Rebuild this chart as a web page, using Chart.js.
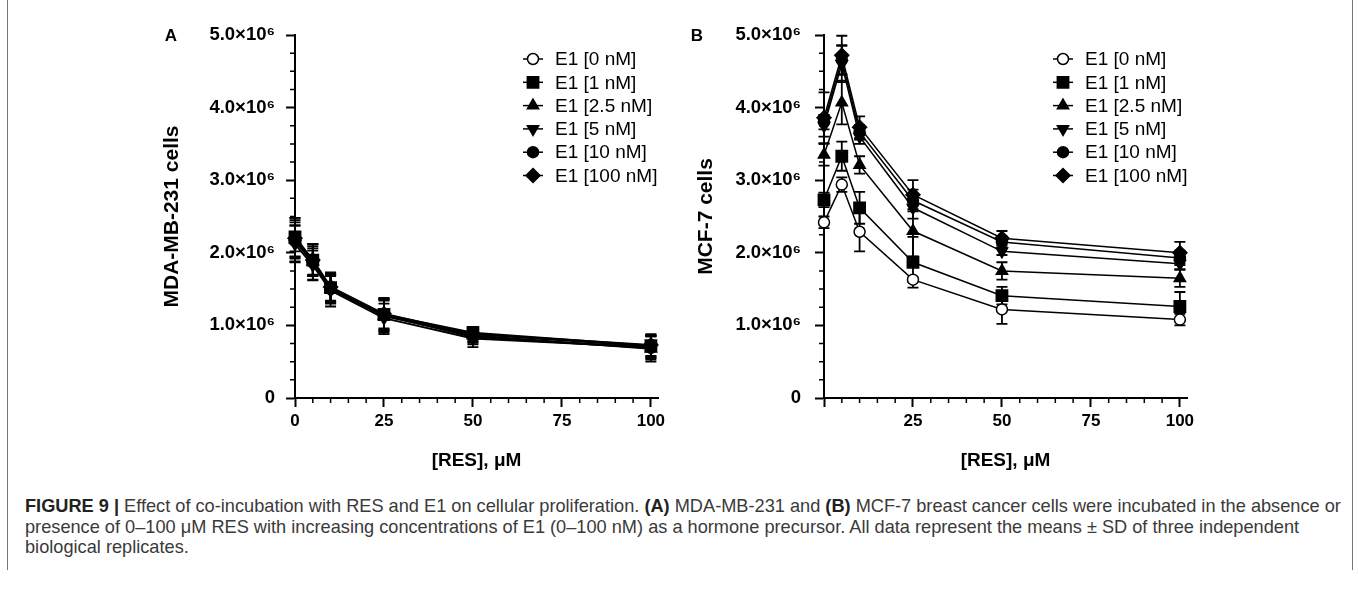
<!DOCTYPE html>
<html>
<head>
<meta charset="utf-8">
<script src="https://cdn.jsdelivr.net/npm/chart.js@4.4.1/dist/chart.umd.min.js"></script>
<style>
  body { margin: 0; background: #fff; width: 1358px; height: 589px; overflow: hidden; position: relative; font-family: "Liberation Sans", Arial, sans-serif; }
  #wrapA { position: absolute; left: 0; top: 0; }
  #wrapB { position: absolute; left: 680px; top: 0; }
  .frame { position: absolute; top: 0; width: 1px; height: 570px; background: #777; }
  #caption { position: absolute; left: 25px; top: 496px; font-size: 18.2px; line-height: 20.5px; color: #3a3a3a; white-space: nowrap; }
  #caption b { color: #222; }
</style>
</head>
<body>
<div class="frame" style="left:7px"></div>
<div class="frame" style="left:1352px"></div>
<div id="wrapA"><canvas id="chartA" width="680" height="490"></canvas></div>
<div id="wrapB"><canvas id="chartB" width="678" height="490"></canvas></div>
<div id="caption">
<b>FIGURE 9 |</b> Effect of co-incubation with RES and E1 on cellular proliferation. <b>(A)</b> MDA-MB-231 and <b>(B)</b> MCF-7 breast cancer cells were incubated in the absence or<br>
presence of 0–100 μM RES with increasing concentrations of E1 (0–100 nM) as a hormone precursor. All data represent the means ± SD of three independent<br>
biological replicates.
</div>
<script>
// RES concentration (µM) on the x axis
var resConc = [0, 5, 10, 25, 50, 100];
var seriesNames = ["E1 [0 nM]", "E1 [1 nM]", "E1 [2.5 nM]", "E1 [5 nM]", "E1 [10 nM]", "E1 [100 nM]"];
var yMajor = [0, 1e6, 2e6, 3e6, 4e6, 5e6];
var yMajorLabels = ["0", "1.0×10⁶", "2.0×10⁶", "3.0×10⁶", "4.0×10⁶", "5.0×10⁶"];
var xMajor = [0, 25, 50, 75, 100];

// A: MDA-MB-231 cells
var mda0 = [2.20e6, 1.89e6, 1.51e6, 1.14e6, 0.88e6, 0.71e6];
var mda1 = [2.22e6, 1.90e6, 1.52e6, 1.15e6, 0.90e6, 0.72e6];
var mda25 = [2.18e6, 1.88e6, 1.50e6, 1.13e6, 0.86e6, 0.68e6];
var mda5 = [2.12e6, 1.83e6, 1.48e6, 1.10e6, 0.82e6, 0.70e6];
var mda10 = [2.16e6, 1.87e6, 1.50e6, 1.14e6, 0.84e6, 0.69e6];
var mda100 = [2.20e6, 1.90e6, 1.53e6, 1.16e6, 0.88e6, 0.73e6];
var mdaErr0 = [0.25e6, 0.20e6, 0.20e6, 0.20e6, 0.10e6, 0.15e6];
var mdaErr1 = [0.20e6, 0.22e6, 0.18e6, 0.22e6, 0.08e6, 0.15e6];
var mdaErr25 = [0.30e6, 0.18e6, 0.20e6, 0.25e6, 0.10e6, 0.18e6];
var mdaErr5 = [0.25e6, 0.20e6, 0.22e6, 0.20e6, 0.12e6, 0.15e6];
var mdaErr10 = [0.22e6, 0.25e6, 0.18e6, 0.22e6, 0.10e6, 0.16e6];
var mdaErr100 = [0.28e6, 0.22e6, 0.20e6, 0.20e6, 0.10e6, 0.15e6];

// B: MCF-7 cells
var mcf0 = [2.42e6, 2.94e6, 2.29e6, 1.63e6, 1.22e6, 1.08e6];
var mcf1 = [2.73e6, 3.33e6, 2.62e6, 1.87e6, 1.41e6, 1.26e6];
var mcf25 = [3.35e6, 4.07e6, 3.21e6, 2.30e6, 1.75e6, 1.65e6];
var mcf5 = [3.75e6, 4.60e6, 3.60e6, 2.62e6, 2.02e6, 1.85e6];
var mcf10 = [3.80e6, 4.66e6, 3.66e6, 2.72e6, 2.15e6, 1.93e6];
var mcf100 = [3.86e6, 4.72e6, 3.73e6, 2.80e6, 2.20e6, 2.00e6];
var mcfErr0 = [0.08e6, 0.10e6, 0.27e6, 0.03e6, 0.20e6, 0.08e6];
var mcfErr1 = [0.10e6, 0.20e6, 0.22e6, 0.35e6, 0.12e6, 0.20e6];
var mcfErr25 = [0.15e6, 0.30e6, 0.12e6, 0.35e6, 0.12e6, 0.12e6];
var mcfErr5 = [0.15e6, 0.25e6, 0.10e6, 0.15e6, 0.05e6, 0.08e6];
var mcfErr10 = [0.10e6, 0.20e6, 0.10e6, 0.15e6, 0.08e6, 0.10e6];
var mcfErr100 = [0.35e6, 0.27e6, 0.15e6, 0.20e6, 0.10e6, 0.15e6];

Chart.defaults.color = "#000";
Chart.defaults.font.family = '"Liberation Sans", Arial, sans-serif';

var markers = [
  { pointStyle: "circle", radius: 5.5, rotation: 0, fill: "#fff" },
  { pointStyle: "rect", radius: 8, rotation: 0, fill: "#000" },
  { pointStyle: "triangle", radius: 6.5, rotation: 0, fill: "#000" },
  { pointStyle: "triangle", radius: 6.5, rotation: 180, fill: "#000" },
  { pointStyle: "circle", radius: 5.5, rotation: 0, fill: "#000" },
  { pointStyle: "rectRot", radius: 7, rotation: 0, fill: "#000" }
];

// drawOrder: lower number ends up on top
function makeDatasets(means, errs, lineW, drawOrder) {
  return means.map(function (vals, i) {
    var m = markers[i];
    return {
      label: seriesNames[i],
      data: resConc.map(function (x, j) { return { x: x, y: vals[j] }; }),
      errors: errs[i],
      order: drawOrder[i],
      borderColor: "#000",
      borderWidth: lineW,
      backgroundColor: m.fill,
      pointStyle: m.pointStyle,
      pointRotation: m.rotation,
      pointRadius: m.radius,
      pointBackgroundColor: m.fill,
      pointBorderColor: "#000",
      pointBorderWidth: 1.5,
      tension: 0,
      clip: false
    };
  });
}

// error bars with caps, drawn under the markers
var errorBars = {
  id: "errorBars",
  beforeDatasetsDraw: function (chart) {
    var ctx = chart.ctx, ys = chart.scales.y;
    ctx.save();
    ctx.strokeStyle = "#000";
    ctx.lineWidth = 1.8;
    chart.data.datasets.forEach(function (ds, i) {
      chart.getDatasetMeta(i).data.forEach(function (pt, j) {
        var v = ds.data[j].y, e = ds.errors[j];
        var top = ys.getPixelForValue(v + e), bot = ys.getPixelForValue(v - e);
        ctx.beginPath();
        ctx.moveTo(pt.x, top); ctx.lineTo(pt.x, bot);
        ctx.moveTo(pt.x - 5.5, top); ctx.lineTo(pt.x + 5.5, top);
        ctx.moveTo(pt.x - 5.5, bot); ctx.lineTo(pt.x + 5.5, bot);
        ctx.stroke();
      });
    });
    ctx.restore();
  }
};

// short minor ticks, the long major ones come from the scales
var minorTicks = {
  id: "minorTicks",
  afterDraw: function (chart) {
    var ctx = chart.ctx, area = chart.chartArea, xs = chart.scales.x, ys = chart.scales.y;
    ctx.save();
    ctx.strokeStyle = "#000";
    ctx.lineWidth = 1.5;
    ctx.beginPath();
    ys.ticks.forEach(function (t) {
      if (yMajor.indexOf(t.value) < 0) {
        var p = ys.getPixelForValue(t.value);
        ctx.moveTo(area.left - 5, p); ctx.lineTo(area.left, p);
      }
    });
    xs.ticks.forEach(function (t) {
      if (xMajor.indexOf(t.value) < 0) {
        var p = xs.getPixelForValue(t.value);
        ctx.moveTo(p, area.bottom); ctx.lineTo(p, area.bottom + 5);
      }
    });
    ctx.stroke();
    ctx.restore();
  }
};

function drawMarker(ctx, m, x, y) {
  ctx.fillStyle = m.fill;
  ctx.strokeStyle = "#000";
  ctx.lineWidth = 1.5;
  if (Chart.helpers && Chart.helpers.drawPoint) {
    Chart.helpers.drawPoint(ctx, { pointStyle: m.pointStyle, radius: m.radius, rotation: m.rotation, borderWidth: 1.5 }, x, y);
  } else {
    ctx.beginPath();
    ctx.arc(x, y, m.radius, 0, Math.PI * 2);
    ctx.fill(); ctx.stroke();
  }
}

// legend in the upper right of the plot, line through the marker
var cornerLegend = {
  id: "cornerLegend",
  afterDraw: function (chart, args, opts) {
    var ctx = chart.ctx;
    ctx.save();
    ctx.font = "19px " + Chart.defaults.font.family;
    ctx.textBaseline = "middle";
    chart.data.datasets.forEach(function (ds, i) {
      var y = opts.y0 + i * opts.dy;
      ctx.strokeStyle = "#000";
      ctx.lineWidth = 1.5;
      ctx.beginPath();
      ctx.moveTo(opts.x - 10, y); ctx.lineTo(opts.x + 10, y);
      ctx.stroke();
      drawMarker(ctx, markers[i], opts.x, y);
      ctx.fillStyle = "#000";
      ctx.fillText(ds.label, opts.x + 22, y + 1);
    });
    // panel letter
    ctx.font = "bold 17px " + Chart.defaults.font.family;
    ctx.textAlign = "center";
    ctx.fillText(opts.letter, opts.letterX, 36);
    ctx.restore();
  }
};

function makeChart(id, datasets, cfg) {
  return new Chart(document.getElementById(id), {
    type: "line",
    data: { datasets: datasets },
    options: {
      responsive: false,
      animation: false,
      layout: { padding: { left: cfg.padLeft, right: cfg.padRight, top: 35, bottom: 12 } },
      plugins: {
        legend: { display: false },
        tooltip: { enabled: false },
        cornerLegend: { x: cfg.legendX, y0: 59, dy: 23.3, letter: cfg.letter, letterX: cfg.letterX }
      },
      scales: {
        x: {
          type: "linear",
          min: 0,
          max: 102,
          afterFit: function (s) { s.height = 80; },
          border: { display: true, color: "#000", width: 2 },
          grid: {
            drawOnChartArea: false,
            tickLength: 9,
            tickWidth: 2,
            tickColor: function (c) { return xMajor.indexOf(c.tick.value) >= 0 ? "#000" : "rgba(0,0,0,0)"; }
          },
          ticks: {
            stepSize: 5,
            includeBounds: false,
            autoSkip: false,
            maxRotation: 0,
            padding: 4,
            font: { size: 17, weight: "bold" },
            callback: function (v) {
              if (v === 0 && !cfg.showZeroX) return "";
              return xMajor.indexOf(v) >= 0 ? String(v) : "";
            }
          },
          title: { display: true, text: "[RES], μM", font: { size: 19, weight: "bold" }, padding: { top: 0, bottom: 6 } }
        },
        y: {
          min: 0,
          max: 5e6,
          afterFit: function (s) { s.width = 140; },
          border: { display: true, color: "#000", width: 2 },
          grid: {
            drawOnChartArea: false,
            tickLength: 9,
            tickWidth: 2,
            tickColor: function (c) { return yMajor.indexOf(c.tick.value) >= 0 ? "#000" : "rgba(0,0,0,0)"; }
          },
          ticks: {
            stepSize: 250000,
            autoSkip: false,
            padding: cfg.yTickPad,
            font: { size: 18.5, weight: "bold" },
            callback: function (v) {
              var k = yMajor.indexOf(v);
              return k >= 0 ? yMajorLabels[k] : "";
            }
          },
          title: { display: true, text: cfg.yTitle, font: { size: 21, weight: "bold" }, padding: { top: cfg.yTitlePad, bottom: 0 } }
        }
      }
    },
    plugins: [errorBars, minorTicks, cornerLegend]
  });
}

// in A the curves overlap and the squares sit on top
makeChart("chartA",
  makeDatasets([mda0, mda1, mda25, mda5, mda10, mda100], [mdaErr0, mdaErr1, mdaErr25, mdaErr5, mdaErr10, mdaErr100], 2, [6, 0, 3, 4, 2, 1]),
  { padLeft: 155, padRight: 22, yTitle: "MDA-MB-231 cells", yTitlePad: 5, yTickPad: 11, showZeroX: true, legendX: 533, letter: "A", letterX: 171 });

makeChart("chartB",
  makeDatasets([mcf0, mcf1, mcf25, mcf5, mcf10, mcf100], [mcfErr0, mcfErr1, mcfErr25, mcfErr5, mcfErr10, mcfErr100], 1.5, [0, 1, 2, 3, 4, 5]),
  { padLeft: 4, padRight: 171, yTitle: "MCF-7 cells", yTitlePad: 10, yTickPad: 14, showZeroX: false, legendX: 383, letter: "B", letterX: 17 });
</script>
</body>
</html>
